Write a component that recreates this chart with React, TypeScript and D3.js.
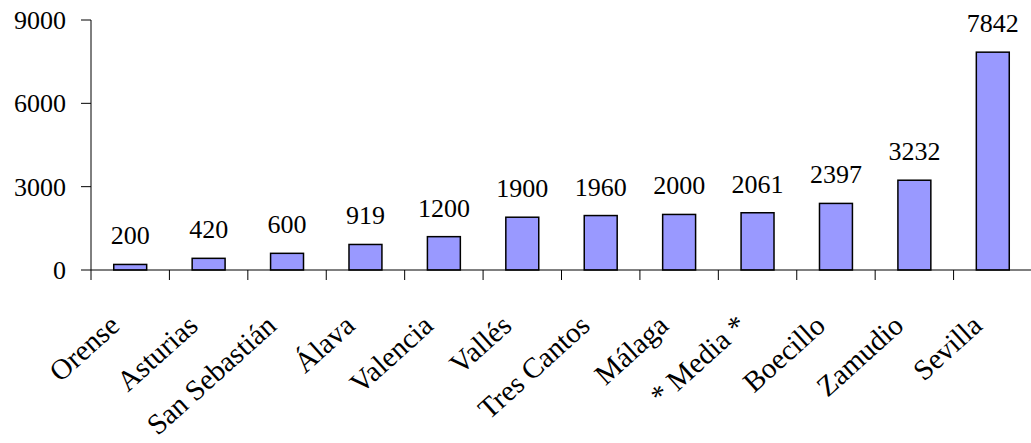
import React from "react";
import * as d3 from "d3";

const categories = ["Orense", "Asturias", "San Sebastián", "Álava", "Valencia", "Vallés", "Tres Cantos", "Málaga", "* Media *", "Boecillo", "Zamudio", "Sevilla"];
const values = [200, 420, 600, 919, 1200, 1900, 1960, 2000, 2061, 2397, 3232, 7842];
const yTicks = [0, 3000, 6000, 9000];

const W = 1031, H = 443;
const FONT = "Liberation Serif, Times New Roman, serif";

export default function App() {
  const x = d3.scaleBand<string>().domain(categories).range([91, 1032]).paddingInner(0.58).paddingOuter(0.29);
  const y = d3.scaleLinear().domain([0, 9000]).range([270, 20]);
  const step = x.step();
  return (
    <svg width={W} height={H} style={{ position: "absolute", left: 0, top: 0, background: "#fff" }} fontFamily={FONT}>
      {categories.map((c, i) => (
        <rect key={c} x={x(c)!} y={y(values[i])} width={x.bandwidth()} height={y(0) - y(values[i])}
          fill="#9999FF" stroke="#000" strokeWidth={1.5} />
      ))}
      <line x1={91} x2={1031} y1={y(0)} y2={y(0)} stroke="#000" strokeWidth={1} />
      <line x1={91} x2={91} y1={y(9000)} y2={y(0)} stroke="#000" strokeWidth={1} />
      {yTicks.map(t => (
        <g key={t}>
          <line x1={81} x2={91} y1={y(t)} y2={y(t)} stroke="#000" />
          <text x={66} y={y(t)} dy="0.35em" textAnchor="end" fontSize={26}>{t}</text>
        </g>
      ))}
      {d3.range(categories.length + 1).map(i => (
        <line key={i} x1={91 + i * step} x2={91 + i * step} y1={y(0)} y2={y(0) + 10} stroke="#000" />
      ))}
      {categories.map((c, i) => (
        <text key={c} x={x(c)! + x.bandwidth() / 2} y={y(values[i]) - 20} textAnchor="middle" fontSize={26}>{values[i]}</text>
      ))}
      {categories.map(c => {
        const cx = x(c)! + x.bandwidth() / 2 - 9;
        return (
          <text key={c} transform={`translate(${cx},328) rotate(-42)`} textAnchor="end" fontSize={29}>{c}</text>
        );
      })}
    </svg>
  );
}
